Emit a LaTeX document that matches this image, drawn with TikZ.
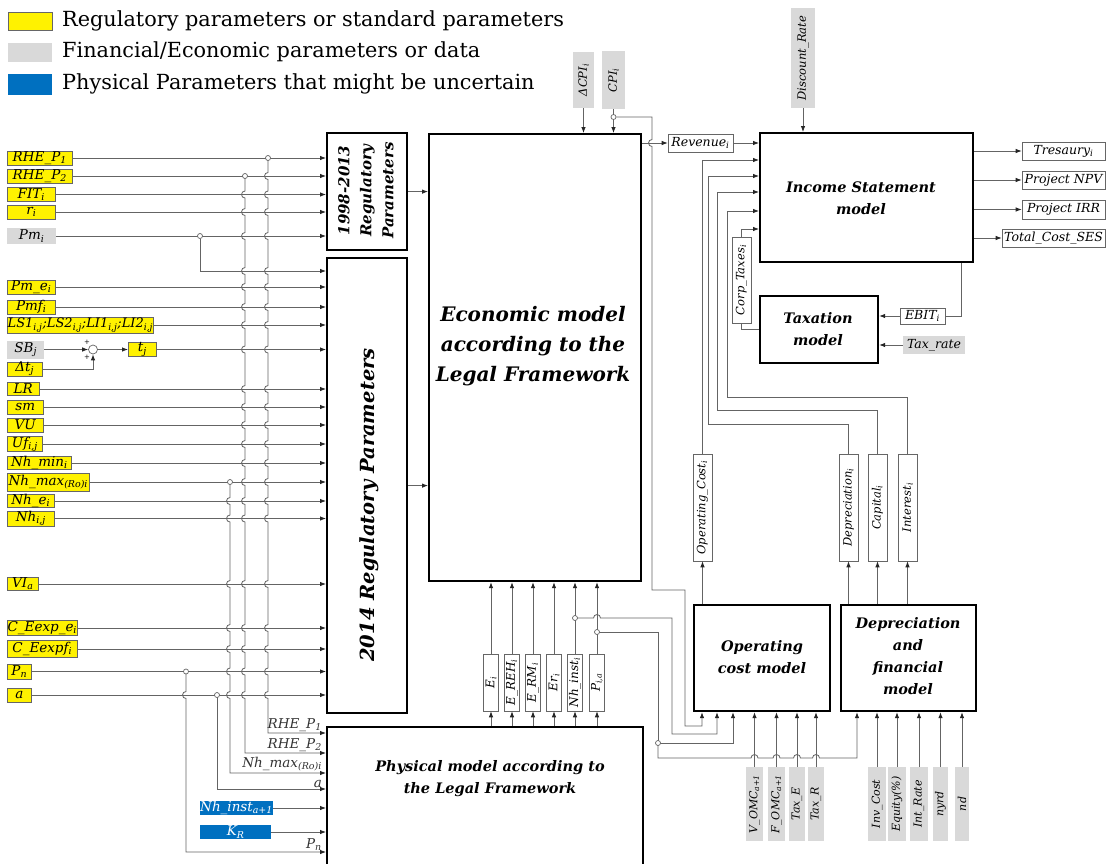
\documentclass[tikz,border=0pt]{standalone}
\usepackage{fontspec}
\setmainfont{DejaVu Serif}
\usepackage{graphicx}
\usetikzlibrary{arrows.meta}
\definecolor{bluep}{RGB}{0,112,192}
\definecolor{grayp}{RGB}{217,217,217}
\definecolor{lnc}{RGB}{100,100,100}
\newcommand\sbs[1]{\textsubscript{#1}}
\newcommand\fsz[2]{\fontsize{#1}{#2}\selectfont}
\begin{document}
\begin{tikzpicture}[x=1pt,y=-1pt,
  ln/.style={draw=lnc, line width=0.8pt},
  arr/.style={ln, -{Latex[length=6pt,width=4.5pt,color=black!85]}},
  bigbox/.style={draw=black, line width=2.2pt, inner sep=0pt, anchor=north west},
  lab/.style={inner sep=0pt, anchor=west, font=\fsz{13.5}{15}\itshape},
  ylw/.style={lab, draw=black!60, fill=yellow, line width=0.6pt},
  gry/.style={lab, fill=grayp},
  blu/.style={lab, fill=bluep, text=white},
  wbox/.style={inner sep=0pt, draw=black!60, line width=0.6pt, fill=white, font=\fsz{12.5}{14}\itshape},
  vbox/.style={wbox, font=\fsz{11.5}{13}\itshape},
  gbox/.style={inner sep=0pt, fill=grayp, font=\fsz{11.5}{13}\itshape},
  dot/.style={circle, draw=lnc, fill=white, inner sep=0pt, minimum size=5pt, line width=0.7pt},
  title/.style={font=\fsz{14.5}{22}\bfseries\itshape, align=center},
  plab/.style={inner sep=0pt, anchor=south east, font=\fsz{13.5}{15}\itshape, text=black!80},
]
\fill[white] (0,0) rectangle (1106,863);
\useasboundingbox (0,0) rectangle (1106,863);

% ---------------- legend
\node[draw=black!60, fill=yellow, line width=0.6pt, minimum width=44pt, minimum height=18pt, inner sep=0pt, anchor=north west] (lg1) at (8,12) {};
\node[fill=grayp, minimum width=44pt, minimum height=19pt, inner sep=0pt, anchor=north west] (lg2) at (8,43) {};
\node[fill=bluep, minimum width=44pt, minimum height=21pt, inner sep=0pt, anchor=north west] (lg3) at (8,74) {};
\node[inner sep=0pt, anchor=west, font=\fsz{20.8}{24}] at (62,21) {Regulatory parameters or standard parameters};
\node[inner sep=0pt, anchor=west, font=\fsz{20.8}{24}] at (62,52) {Financial/Economic parameters or data};
\node[inner sep=0pt, anchor=west, font=\fsz{20.8}{24}] at (62,84) {Physical Parameters that might be uncertain};

% ---------------- big boxes
\node[bigbox, minimum width=80pt, minimum height=117pt] (b98) at (326,132) {};
\node[bigbox, minimum width=80pt, minimum height=455pt] (b14) at (326,257) {};
\node[bigbox, minimum width=212pt, minimum height=447pt] (econ) at (428,133) {};
\node[bigbox, minimum width=316pt, minimum height=160pt] (phys) at (326,726) {};
\node[bigbox, minimum width=213pt, minimum height=129pt] (inc) at (759,132) {};
\node[bigbox, minimum width=118pt, minimum height=67pt] (tax) at (759,295) {};
\node[bigbox, minimum width=136pt, minimum height=106pt] (opcm) at (693,604) {};
\node[bigbox, minimum width=135pt, minimum height=106pt] (depm) at (840,604) {};

\node[title, font=\fsz{15}{22}\bfseries\itshape, rotate=90] at (366,190.5) {1998-2013\\Regulatory\\Parameters};
\node[title, font=\fsz{19.5}{24}\bfseries\itshape, rotate=90] at (369,505) {2014 Regulatory Parameters};
\node[title, font=\fsz{20}{30}\bfseries\itshape] at (533,346) {Economic model\\according to the\\Legal Framework};
\node[title] at (861,198) {Income Statement\\model};
\node[title] at (818,329) {Taxation\\model};
\node[title] at (762,657) {Operating\\cost model};
\node[title] at (908,656) {Depreciation\\and\\financial\\model};
\node[title] at (490,779) {Physical model according to\\the Legal Framework};

\draw[arr] (b98.east) -- (b98.east -| econ.west);
\draw[arr] (b14.east) -- (b14.east -| econ.west);

% ---------------- left inputs
\node[ylw,minimum width=65pt,minimum height=14pt] (rhe1) at (7,158) {RHE\_P\sbs{1}};
\node[ylw,minimum width=65pt,minimum height=14pt] (rhe2) at (7,176) {RHE\_P\sbs{2}};
\node[ylw,minimum width=48pt,minimum height=14pt] (fit) at (7,194.5) {FIT\sbs{i}};
\node[ylw,minimum width=48pt,minimum height=14pt] (ri) at (7,212) {r\sbs{i}};
\node[gry,minimum width=49pt,minimum height=16pt] (pm) at (7,236) {Pm\sbs{i}};
\node[ylw,minimum width=48pt,minimum height=14pt] (pme) at (7,287) {Pm\_e\sbs{i}};
\node[ylw,minimum width=48pt,minimum height=14pt] (pmf) at (7,307) {Pmf\sbs{i}};
\node[ylw,minimum width=146pt,minimum height=16pt,font=\fsz{13}{15}\itshape] (ls) at (7,325) {LS1\sbs{i,j};LS2\sbs{i,j};LI1\sbs{i,j};LI2\sbs{i,j}};
\node[gry,minimum width=37pt,minimum height=18pt] (sb) at (7,349.5) {SB\sbs{j}};
\node[circle,draw=lnc,fill=white,inner sep=0pt,minimum size=9pt,line width=0.7pt] (sum) at (93,349.5) {};
\node[ylw,minimum width=28pt,minimum height=14pt] (tj) at (128,349.5) {t\sbs{j}};
\node[ylw,minimum width=35pt,minimum height=14pt] (dt) at (7,369) {Δt\sbs{j}};
\node[ylw,minimum width=32pt,minimum height=13pt] (lr) at (7,389) {LR};
\node[ylw,minimum width=36pt,minimum height=14pt] (sm) at (7,407) {sm};
\node[ylw,minimum width=36pt,minimum height=14pt] (vu) at (7,425) {VU};
\node[ylw,minimum width=35pt,minimum height=14pt] (uf) at (7,444) {Uf\sbs{i,j}};
\node[ylw,minimum width=64pt,minimum height=13pt] (nhmin) at (7,463) {Nh\_min\sbs{i}};
\node[ylw,minimum width=82pt,minimum height=18pt] (nhmax) at (7,482) {Nh\_max\sbs{(Ro)i}};
\node[ylw,minimum width=47pt,minimum height=13pt] (nhe) at (7,501) {Nh\_e\sbs{i}};
\node[ylw,minimum width=47pt,minimum height=15pt] (nh) at (7,518.5) {Nh\sbs{i,j}};
\node[ylw,minimum width=31pt,minimum height=13pt] (vi) at (7,584) {VI\sbs{a}};
\node[ylw,minimum width=70pt,minimum height=15pt] (cee) at (7,628) {C\_Eexp\_e\sbs{i}};
\node[ylw,minimum width=70pt,minimum height=17pt] (cef) at (7,649) {C\_Eexpf\sbs{i}};
\node[ylw,minimum width=24pt,minimum height=15pt] (pn) at (7,671.5) {P\sbs{n}};
\node[ylw,minimum width=24pt,minimum height=14pt] (aa) at (7,695) {a};
\node[inner sep=0pt, font=\fsz{7}{7}] at (87,342) {+};
\node[inner sep=0pt, font=\fsz{7}{7}] at (87,357.5) {+};

\foreach \n in {rhe1,rhe2,fit,ri,pm} \draw[arr] (\n.east) -- (\n.east -| b98.west);
\foreach \n in {pme,pmf,ls,tj,lr,sm,vu,uf,nhmin,nhmax,nhe,nh,vi,cee,cef,pn,aa} \draw[arr] (\n.east) -- (\n.east -| b14.west);
\draw[arr] (sb.east) -- (sum.west);
\draw[arr] (sum.east) -- (tj.west);
\draw[arr] (dt.east) -| (sum.south);

% Pm branch
\node[dot] (dpm) at (200,236) {};
\coordinate (pmb) at (200,271);
\draw[arr] (dpm.south) -- (pmb) -- (pmb -| b14.west);

% vertical distribution lines with hops
\coordinate (v1) at (268,733);
\coordinate (v2) at (245,753);
\coordinate (v3) at (230,773);
\coordinate (v4) at (217,789);
\coordinate (v5) at (186,852);
\draw[arr] (268,158) \foreach \h in {176,194.5,212,236,271,287,307,325,349.5,389,407,425,444,463,482,501,518.5,584,628,649,671.5,695}{ -- (268,\h-3.5) arc[start angle=90,end angle=270,radius=3.5pt]} -- (v1) -- (v1 -| phys.west);
\draw[arr] (245,176) \foreach \h in {194.5,212,236,271,287,307,325,349.5,389,407,425,444,463,482,501,518.5,584,628,649,671.5,695}{ -- (245,\h-3.5) arc[start angle=90,end angle=270,radius=3.5pt]} -- (v2) -- (v2 -| phys.west);
\draw[arr] (230,482) \foreach \h in {501,518.5,584,628,649,671.5,695}{ -- (230,\h-3.5) arc[start angle=90,end angle=270,radius=3.5pt]} -- (v3) -- (v3 -| phys.west);
\draw[arr] (217,695) -- (v4) -- (v4 -| phys.west);
\draw[arr] (186,671.5) -- (186,691.5) arc[start angle=90,end angle=270,radius=3.5pt] -- (v5) -- (v5 -| phys.west);
\node[dot] (d1) at (268,158) {};
\node[dot] (d2) at (245,176) {};
\node[dot] (d3) at (230,482) {};
\node[dot] (d4) at (217,695) {};
\node[dot] (d5) at (186,671.5) {};

\node[plab] at (322,731.5) {RHE\_P\sbs{1}};
\node[plab] at (322,751.5) {RHE\_P\sbs{2}};
\node[plab] at (322,771.5) {Nh\_max\sbs{(Ro)i}};
\node[plab] at (322,787.5) {a};
\node[plab] at (322,850.5) {P\sbs{n}};

\node[blu, minimum width=71pt, minimum height=14pt] (nhin) at (200,808) {Nh\_inst\sbs{a+1}};
\node[blu, minimum width=71pt, minimum height=14pt] (kr) at (200,832) {K\sbs{R}};
\draw[arr] (nhin.east) -- (nhin.east -| phys.west);
\draw[arr] (kr.east) -- (kr.east -| phys.west);

% ---------------- top inputs
\node[gbox, minimum width=21pt, minimum height=56pt] (dcpi) at (583.5,80) {\rotatebox{90}{ΔCPI\sbs{i}}};
\node[gbox, minimum width=23pt, minimum height=58pt] (cpi) at (613.5,80) {\rotatebox{90}{CPI\sbs{i}}};
\node[gbox, minimum width=24pt, minimum height=100pt] (disc) at (803,58) {\rotatebox{90}{Discount\_Rate}};
\draw[arr] (dcpi.south) -- (dcpi.south |- econ.north);
\node[dot] (cpid) at (613.5,117) {};
\draw[ln] (cpi.south) -- (cpid.north);
\draw[arr] (cpid.south) -- (cpid.south |- econ.north);
\draw[arr] (disc.south) -- (disc.south |- inc.north);

% Revenue
\node[wbox, minimum width=65pt, minimum height=18pt] (rev) at (700.5,143) {Revenue\sbs{i}};
\draw[arr] (econ.east |- rev.west) -- (rev.west);
\draw[arr] (rev.east) -- (rev.east -| inc.west);

% CPI to operating cost model
\coordinate (oc1) at (702,726);
\draw[arr] (cpid.east) -- (652,117) -- (652,139.5) arc[start angle=90,end angle=270,radius=3.5pt] -- (652,590) -- (685,590) -- (685,726) -- (oc1) -- (oc1 |- opcm.south);

% outputs of income statement
\node[wbox, minimum width=83pt, minimum height=18pt] (tres) at (1063.5,151) {Tresaury\sbs{i}};
\node[wbox, minimum width=83pt, minimum height=18pt] (npv) at (1063.5,180) {Project NPV};
\node[wbox, minimum width=83pt, minimum height=19pt] (irr) at (1063.5,209.5) {Project IRR};
\node[wbox, minimum width=103pt, minimum height=18pt] (tcs) at (1053.5,238) {Total\_Cost\_SES};
\foreach \n in {tres,npv,irr,tcs} \draw[arr] (inc.east |- \n.west) -- (\n.west);

% taxation
\node[wbox, minimum width=45pt, minimum height=16pt] (ebit) at (922.5,316) {EBIT\sbs{i}};
\node[gbox, font=\fsz{12.5}{14}\itshape, minimum width=62pt, minimum height=18pt] (taxr) at (934,345) {Tax\_rate};
\coordinate (eb1) at (961,316);
\draw[ln] (eb1 |- inc.south) -- (eb1) -- (ebit.east);
\draw[arr] (ebit.west) -- (ebit.west -| tax.east);
\draw[arr] (taxr.west) -- (taxr.west -| tax.east);

\node[vbox, minimum width=19pt, minimum height=86pt] (corp) at (741.5,280) {\rotatebox{90}{Corp\_Taxes\sbs{i}}};
\coordinate (ct) at (741.5,329);
\draw[ln] (ct -| tax.west) -- (ct) -- (corp.south);
\coordinate (ctop) at (741.5,229);
\draw[arr] (corp.north) -- (ctop) -- (ctop -| inc.west);

% model outputs to income statement
\node[vbox, minimum width=19pt, minimum height=107pt] (opc) at (702.5,507.5) {\rotatebox{90}{Operating\_Cost\sbs{i}}};
\node[vbox, minimum width=19pt, minimum height=107pt] (depr) at (848.5,507.5) {\rotatebox{90}{Depreciation\sbs{i}}};
\node[vbox, minimum width=19pt, minimum height=107pt] (capi) at (877.5,507.5) {\rotatebox{90}{Capital\sbs{i}}};
\node[vbox, minimum width=19pt, minimum height=107pt] (inte) at (907.5,507.5) {\rotatebox{90}{Interest\sbs{i}}};
\coordinate (i1) at (702.5,160);
\draw[arr] (opc.north) -- (i1) -- (i1 -| inc.west);
\coordinate (i2) at (708,176);
\draw[arr] (depr.north) |- (708,424) -- (i2) -- (i2 -| inc.west);
\coordinate (i3) at (717,192);
\draw[arr] (capi.north) |- (717,410) -- (i3) -- (i3 -| inc.west);
\coordinate (i4) at (727,211);
\draw[arr] (inte.north) |- (727,397) -- (i4) -- (i4 -| inc.west);
\draw[arr] (opc.south |- opcm.north) -- (opc.south);
\foreach \n in {depr,capi,inte} \draw[arr] (\n.south |- depm.north) -- (\n.south);

% economic model outputs
\node[wbox, font=\fsz{12}{14}\itshape, minimum width=15pt, minimum height=57pt] (o1) at (491,682.5) {\rotatebox{90}{E\sbs{i}}};
\node[wbox, font=\fsz{12}{14}\itshape, minimum width=15pt, minimum height=57pt] (o2) at (512,682.5) {\rotatebox{90}{E\_REH\sbs{i}}};
\node[wbox, font=\fsz{12}{14}\itshape, minimum width=15pt, minimum height=57pt] (o3) at (533,682.5) {\rotatebox{90}{E\_RM\sbs{i}}};
\node[wbox, font=\fsz{12}{14}\itshape, minimum width=15pt, minimum height=57pt] (o4) at (554,682.5) {\rotatebox{90}{Er\sbs{i}}};
\node[wbox, font=\fsz{12}{14}\itshape, minimum width=15pt, minimum height=57pt] (o5) at (575,682.5) {\rotatebox{90}{Nh\_inst\sbs{i}}};
\node[wbox, font=\fsz{12}{14}\itshape, minimum width=15pt, minimum height=57pt] (o6) at (597,682.5) {\rotatebox{90}{P\sbs{i,a}}};
\foreach \k in {1,...,6} {
  \draw[arr] (o\k.south |- phys.north) -- (o\k.south);
  \draw[arr] (o\k.north) -- (o\k.north |- econ.south);
}
\coordinate (q1) at (717,734);
\draw[arr] (575,618) -- (593.5,618) arc[start angle=180,end angle=0,radius=3.5pt] -- (672,618) -- (672,734) -- (q1) -- (q1 |- opcm.south);
\coordinate (q2) at (733,743);
\draw[arr] (597,632) -- (658,632) -- (658,743) -- (q2) -- (q2 |- opcm.south);
\coordinate (q3) at (857,758);
\draw[arr] (658,743) -- (658,758) \foreach \h in {754.5,776.5,797,816}{ -- (\h-3.5,758) arc[start angle=180,end angle=0,radius=3.5pt]} -- (q3) -- (q3 |- depm.south);
\node[dot] (nd5) at (575,618) {};
\node[dot] (nd6) at (597,632) {};
\node[dot] (nd7) at (658,743) {};

% bottom grey inputs
\node[gbox, font=\fsz{11}{13}\itshape, minimum width=17pt, minimum height=74pt] (g1) at (754.5,804) {\rotatebox{90}{V\_OMC\sbs{a+1}}};
\node[gbox, font=\fsz{11}{13}\itshape, minimum width=17pt, minimum height=74pt] (g2) at (776.5,804) {\rotatebox{90}{F\_OMC\sbs{a+1}}};
\node[gbox, font=\fsz{11}{13}\itshape, minimum width=16pt, minimum height=74pt] (g3) at (797,804) {\rotatebox{90}{Tax\_E}};
\node[gbox, font=\fsz{11}{13}\itshape, minimum width=16pt, minimum height=74pt] (g4) at (816,804) {\rotatebox{90}{Tax\_R}};
\node[gbox, font=\fsz{11}{13}\itshape, minimum width=18pt, minimum height=74pt] (g5) at (877,804) {\rotatebox{90}{Inv\_Cost}};
\node[gbox, font=\fsz{11}{13}\itshape, minimum width=18pt, minimum height=74pt] (g6) at (897,804) {\rotatebox{90}{Equity(\%)}};
\node[gbox, font=\fsz{11}{13}\itshape, minimum width=18pt, minimum height=74pt] (g7) at (919,804) {\rotatebox{90}{Int\_Rate}};
\node[gbox, font=\fsz{11}{13}\itshape, minimum width=15pt, minimum height=74pt] (g8) at (940.5,804) {\rotatebox{90}{nyrd}};
\node[gbox, font=\fsz{11}{13}\itshape, minimum width=14pt, minimum height=74pt] (g9) at (962,804) {\rotatebox{90}{nd}};
\foreach \k in {1,...,4} \draw[arr] (g\k.north) -- (g\k.north |- opcm.south);
\foreach \k in {5,...,9} \draw[arr] (g\k.north) -- (g\k.north |- depm.south);
\end{tikzpicture}
\end{document}
